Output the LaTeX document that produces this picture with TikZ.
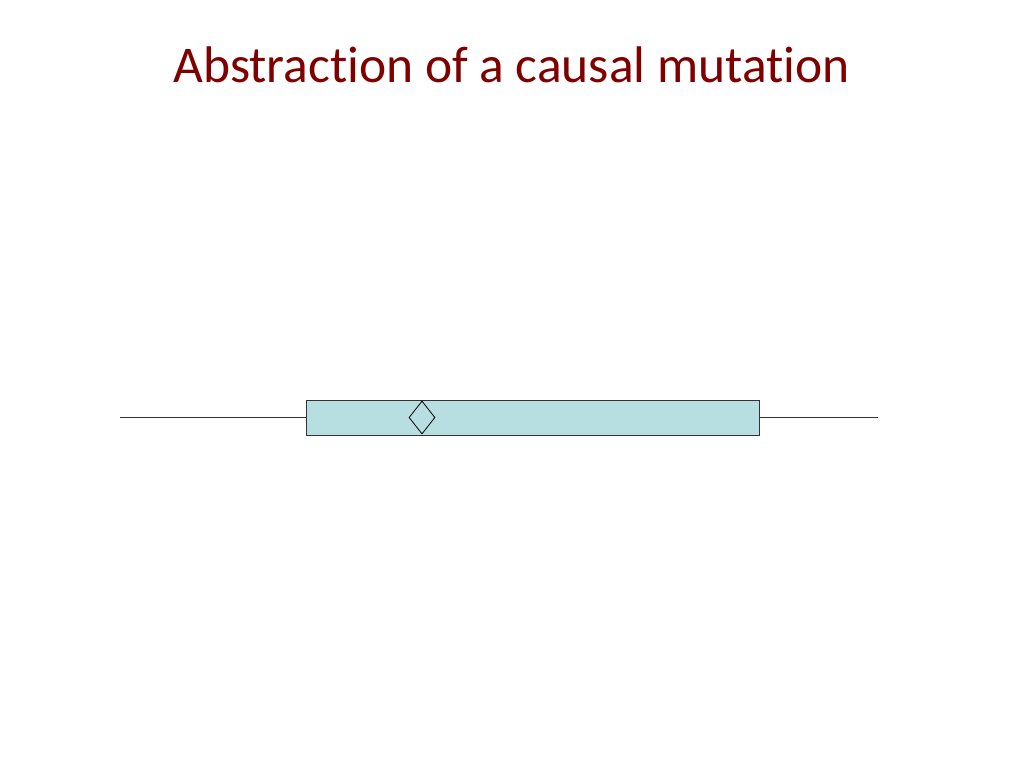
\documentclass[tikz,border=0pt]{standalone}
\usepackage{fontspec}
\setmainfont[Ligatures=NoCommon]{Carlito}
\usetikzlibrary{shapes.geometric}
\definecolor{titlered}{RGB}{128,0,0}
\definecolor{genefill}{RGB}{183,222,224}
\begin{document}
\begin{tikzpicture}[x=1pt,y=-1pt,
  titletext/.style={text=titlered,font=\fontsize{51.5}{58}\selectfont,inner sep=0pt,anchor=base},
  genebox/.style={draw=black!80,fill=genefill,line width=0.8pt,minimum width=453pt,minimum height=35pt,inner sep=0pt},
  mutmark/.style={draw=black,diamond,fill=genefill,line width=0.8pt,minimum width=26pt,minimum height=33pt,inner sep=0pt,shape aspect=0.79},
  strand/.style={draw=black!80,line width=0.8pt}]
\useasboundingbox[fill=white] (0,0) rectangle (1024,768);
\node[titletext] (title) at (511.5,82) {Abstraction of a causal mutation};
\coordinate (left) at (120,417.5);
\coordinate (right) at (878,417.5);
\node[genebox] (gene) at (532.5,417.5) {};
\draw[strand] (left) -- (gene.west);
\draw[strand] (gene.east) -- (right);
\node[mutmark] (mut) at (422,417.5) {};
\end{tikzpicture}
\end{document}
